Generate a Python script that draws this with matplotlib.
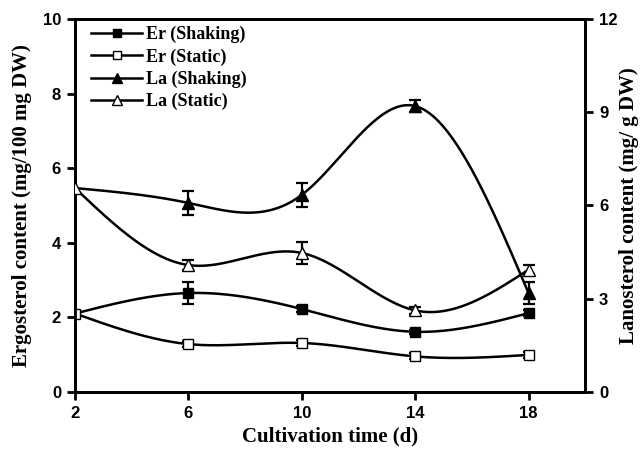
import matplotlib
matplotlib.use("Agg")
import matplotlib.pyplot as plt
from matplotlib.font_manager import FontProperties
from matplotlib.lines import Line2D
import numpy as np

# --- data ---
days = [2, 6, 10, 14, 18]

er_shaking = [2.1, 2.65, 2.22, 1.61, 2.11]
er_shaking_err = [0.0, 0.30, 0.08, 0.06, 0.08]
er_static = [2.1, 1.28, 1.31, 0.95, 0.99]
er_static_err = [0.0, 0.08, 0.08, 0.08, 0.08]

la_shaking = [6.56, 6.08, 6.34, 9.2, 3.18]
la_shaking_err = [0.0, 0.40, 0.38, 0.20, 0.35]
la_static = [6.56, 4.08, 4.47, 2.62, 3.93]
la_static_err = [0.0, 0.15, 0.36, 0.12, 0.15]


def spline(x, y, n=300):
    # natural cubic spline, only used to draw the smooth connecting line
    x = np.asarray(x, float)
    y = np.asarray(y, float)
    h = np.diff(x)
    m = len(x)
    A = np.zeros((m, m))
    b = np.zeros(m)
    A[0, 0] = A[-1, -1] = 1
    for i in range(1, m - 1):
        A[i, i - 1] = h[i - 1]
        A[i, i] = 2 * (h[i - 1] + h[i])
        A[i, i + 1] = h[i]
        b[i] = 6 * ((y[i + 1] - y[i]) / h[i] - (y[i] - y[i - 1]) / h[i - 1])
    M = np.linalg.solve(A, b)
    xs = np.linspace(x[0], x[-1], n)
    k = np.clip(np.searchsorted(x, xs) - 1, 0, m - 2)
    t0 = x[k + 1] - xs
    t1 = xs - x[k]
    hk = h[k]
    ys = (M[k] * t0**3 + M[k + 1] * t1**3) / (6 * hk) \
        + (y[k] / hk - M[k] * hk / 6) * t0 + (y[k + 1] / hk - M[k + 1] * hk / 6) * t1
    return xs, ys


tick_font = FontProperties(family="Liberation Sans", weight="bold", size=12)
label_font = dict(family="Liberation Serif", weight="bold", size=15)

fig = plt.figure(figsize=(6.41, 4.54), dpi=100)
ax = fig.add_axes([0.117, 0.137, 0.796, 0.821])
ax2 = ax.twinx()

lw = 1.8
# ergosterol on the left axis
for y, e in [(er_shaking, er_shaking_err), (er_static, er_static_err)]:
    xs, ys = spline(days, y)
    ax.plot(xs, ys, color="black", lw=lw, zorder=2)
    ax.errorbar(days[1:], y[1:], yerr=e[1:], fmt="none", ecolor="black",
                elinewidth=1.6, capsize=4, capthick=1.6, zorder=3)
ax.plot(days[1:], er_shaking[1:], "s", ms=7, mfc="black", mec="black", zorder=4)
ax.plot(days, er_static, "s", ms=7, mfc="white", mec="black", mew=1, zorder=4)

# lanosterol on the right axis
for y, e in [(la_shaking, la_shaking_err), (la_static, la_static_err)]:
    xs, ys = spline(days, y)
    ax2.plot(xs, ys, color="black", lw=lw, zorder=2)
    ax2.errorbar(days[1:], y[1:], yerr=e[1:], fmt="none", ecolor="black",
                 elinewidth=1.6, capsize=4, capthick=1.6, zorder=3)
ax2.plot(days[1:], la_shaking[1:], "^", ms=9, mfc="black", mec="black", zorder=4)
ax2.plot(days, la_static, "^", ms=9, mfc="white", mec="black", mew=1, zorder=4)

ax.set_xlim(2, 20)
ax.set_ylim(0, 10)
ax2.set_ylim(0, 12)
ax.set_xticks(days)
ax.set_yticks([0, 2, 4, 6, 8, 10])
ax2.set_yticks([0, 3, 6, 9, 12])

for a in (ax, ax2):
    for s in a.spines.values():
        s.set_linewidth(2)
    a.tick_params(direction="out", length=6, width=2, pad=4)
    for lab in a.get_xticklabels() + a.get_yticklabels():
        lab.set_fontproperties(tick_font)

ax.set_xlabel("Cultivation time (d)", fontdict=label_font, labelpad=4)
ax.set_ylabel("Ergosterol content (mg/100 mg DW)", fontdict=label_font, labelpad=8)
ax2.set_ylabel("Lanosterol content (mg/ g DW)", fontdict=label_font, labelpad=1)

# legend
handles = [
    Line2D([], [], color="black", lw=lw, marker="s", ms=6, mfc="black", mec="black"),
    Line2D([], [], color="black", lw=lw, marker="s", ms=6, mfc="white", mec="black", mew=1),
    Line2D([], [], color="black", lw=lw, marker="^", ms=7, mfc="black", mec="black"),
    Line2D([], [], color="black", lw=lw, marker="^", ms=7, mfc="white", mec="black", mew=1),
]
labels = ["Er (Shaking)", "Er (Static)", "La (Shaking)", "La (Static)"]
ax2.legend(handles, labels, loc="upper left", bbox_to_anchor=(0.0, 1.025),
           frameon=False, handlelength=2.8, handletextpad=0.25, labelspacing=0.28,
           prop=dict(family="Liberation Serif", weight="bold", size=13))

fig.savefig("out.png", dpi=100)
